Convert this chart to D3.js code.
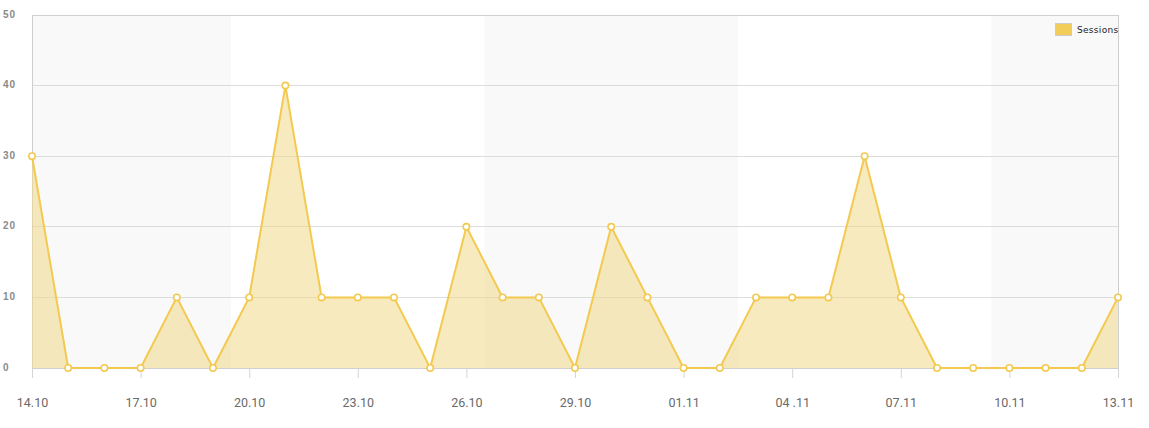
<!DOCTYPE html>
<html><head><meta charset="utf-8">
<script src="https://cdn.jsdelivr.net/npm/d3@7"></script>
<style>body{margin:0;background:#fff;}svg{display:block;font-family:"Open Sans",sans-serif;}</style>
</head><body>
<svg id="c" width="1149" height="428"></svg>
<script>
const dates = ["14.10","15.10","16.10","17.10","18.10","19.10","20.10","21.10","22.10","23.10","24.10","25.10","26.10","27.10","28.10","29.10","30.10","31.10","01.11","02.11","03.11","04 .11","05.11","06.11","07.11","08.11","09.11","10.11","11.11","12.11","13.11"];
const sessions = [30,0,0,0,10,0,10,40,10,10,10,0,20,10,10,0,20,10,0,0,10,10,10,30,10,0,0,0,0,0,10];
const yTicks = [0,10,20,30,40,50];
const bands = [[0,5.5],[12.5,19.5],[26.5,30]];
const seriesName = "Sessions";

const svg = d3.select("#c");
const L=32,R=1118,T=15,B=368;
const x = d3.scaleLinear().domain([0,dates.length-1]).range([L,R]);
const y = d3.scaleLinear().domain([0,50]).range([B,T]);

svg.selectAll("rect.band").data(bands).enter().append("rect")
  .attr("x",d=>x(d[0])).attr("width",d=>x(d[1])-x(d[0]))
  .attr("y",T).attr("height",B-T).attr("fill","#f9f9f9");

svg.selectAll("line.grid").data(yTicks).enter().append("line")
  .attr("x1",L).attr("x2",R).attr("y1",d=>y(d)).attr("y2",d=>y(d))
  .attr("stroke","#dcdcdc").attr("stroke-width",1).attr("shape-rendering","crispEdges");

svg.append("path").attr("d",`M${L},${B}V${T}H${R}V${B}H${L}`).attr("fill","none")
  .attr("stroke","#cfcfcf").attr("shape-rendering","crispEdges");

const xAxis = d3.axisBottom(x).tickValues(d3.range(0,dates.length,3)).tickSize(10).tickFormat(i=>dates[i]);
const gx = svg.append("g").attr("transform",`translate(0,${B})`).call(xAxis);
gx.select(".domain").remove();
gx.selectAll(".tick line").attr("stroke","#d5d5d5");
gx.selectAll(".tick text").attr("fill","#6a6a6a").attr("font-size",12.5).attr("dy","2.05em").attr("font-family","Roboto, sans-serif");

const area = d3.area().x((d,i)=>x(i)).y0(y(0)).y1(d=>y(d));
svg.append("path").datum(sessions).attr("d",area).attr("fill","#f3d98a").attr("fill-opacity",0.55);
const line = d3.line().x((d,i)=>x(i)).y(d=>y(d));
svg.append("path").datum(sessions).attr("d",line).attr("fill","none").attr("stroke","#f3c94f").attr("stroke-width",2);

const yAxis = d3.axisLeft(y).tickValues(yTicks).tickSize(0).tickPadding(0);
const gy = svg.append("g").attr("transform","translate(3,0)").call(yAxis);
gy.select(".domain").remove();
gy.selectAll(".tick text").attr("text-anchor","start").attr("fill","#8a8a8a").attr("font-size",10).attr("font-weight","bold").attr("letter-spacing","1px").attr("dy","0.2em");

svg.selectAll("circle.pt").data(sessions).enter().append("circle")
  .attr("cx",(d,i)=>x(i)).attr("cy",d=>y(d)).attr("r",3.2)
  .attr("fill","#fff").attr("stroke","#f3c94f").attr("stroke-width",1.6);

const lg = svg.append("g").attr("transform","translate(1055,23)");
lg.append("rect").attr("x",0.5).attr("y",0.5).attr("width",16).attr("height",12).attr("fill","#f3cd5a").attr("stroke","#ccc");
lg.append("text").attr("x",22).attr("y",10).text(seriesName).attr("font-size",9).attr("fill","#222").attr("letter-spacing","0.3px").attr("font-family","Verdana, DejaVu Sans, sans-serif");
</script>
</body></html>
